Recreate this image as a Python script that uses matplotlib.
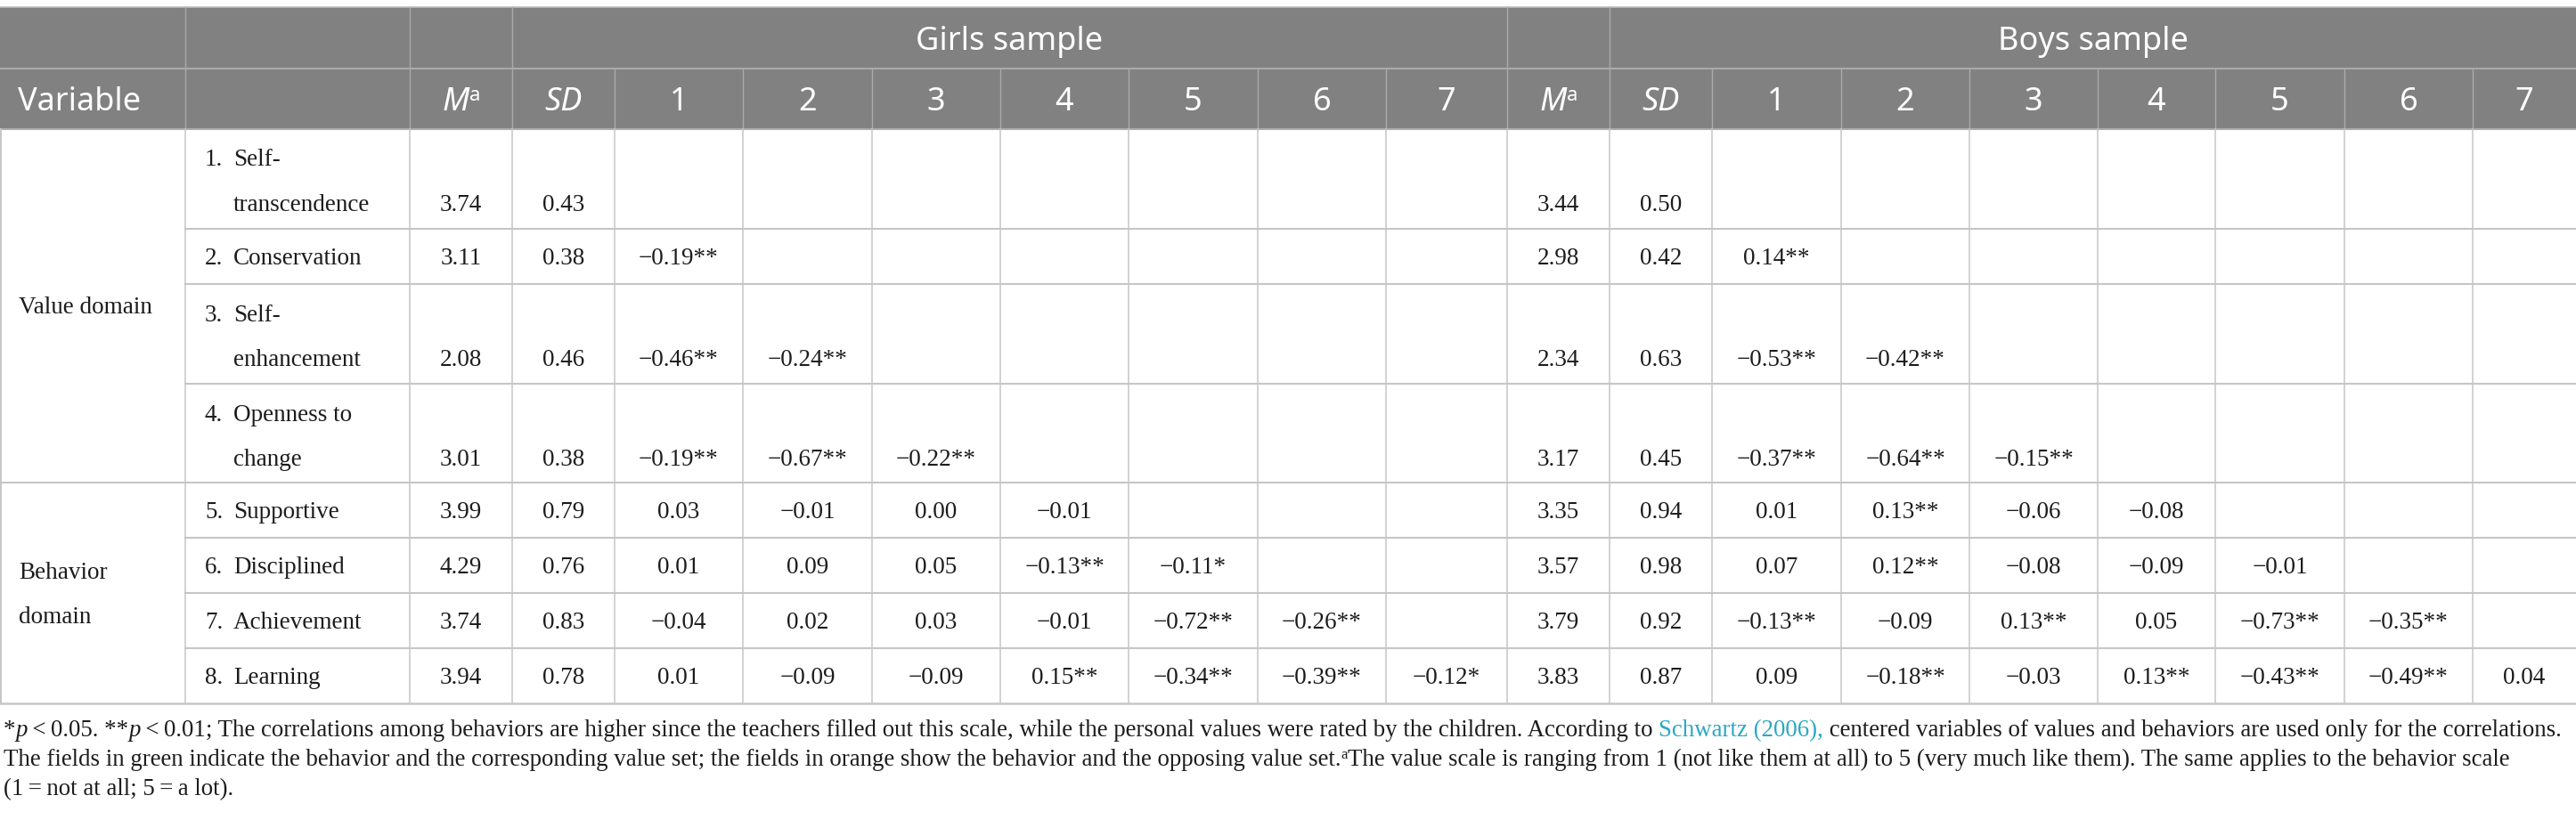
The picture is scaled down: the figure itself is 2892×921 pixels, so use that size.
import matplotlib
matplotlib.use("Agg")
import matplotlib.pyplot as plt
from matplotlib.patches import Rectangle

# ---------------- DATA ----------------
samples = ["Girls sample", "Boys sample"]
domains = ["Value domain", "Behavior\ndomain"]
domain_sizes = [4, 4]
var_nums = ["1.", "2.", "3.", "4.", "5.", "6.", "7.", "8."]
var_names = ["Self-\ntranscendence", "Conservation", "Self-\nenhancement", "Openness to\nchange",
             "Supportive", "Disciplined", "Achievement", "Learning"]
corr_labels = ["1", "2", "3", "4", "5", "6", "7"]

girls_mean = [3.74, 3.11, 2.08, 3.01, 3.99, 4.29, 3.74, 3.94]
girls_sd = [0.43, 0.38, 0.46, 0.38, 0.79, 0.76, 0.83, 0.78]
girls_r = [
    [],
    [-0.19],
    [-0.46, -0.24],
    [-0.19, -0.67, -0.22],
    [0.03, -0.01, 0.00, -0.01],
    [0.01, 0.09, 0.05, -0.13, -0.11],
    [-0.04, 0.02, 0.03, -0.01, -0.72, -0.26],
    [0.01, -0.09, -0.09, 0.15, -0.34, -0.39, -0.12],
]
girls_sig = [
    [],
    ["**"],
    ["**", "**"],
    ["**", "**", "**"],
    ["", "", "", ""],
    ["", "", "", "**", "*"],
    ["", "", "", "", "**", "**"],
    ["", "", "", "**", "**", "**", "*"],
]
boys_mean = [3.44, 2.98, 2.34, 3.17, 3.35, 3.57, 3.79, 3.83]
boys_sd = [0.50, 0.42, 0.63, 0.45, 0.94, 0.98, 0.92, 0.87]
boys_r = [
    [],
    [0.14],
    [-0.53, -0.42],
    [-0.37, -0.64, -0.15],
    [0.01, 0.13, -0.06, -0.08],
    [0.07, 0.12, -0.08, -0.09, -0.01],
    [-0.13, -0.09, 0.13, 0.05, -0.73, -0.35],
    [0.09, -0.18, -0.03, 0.13, -0.43, -0.49, 0.04],
]
boys_sig = [
    [],
    ["**"],
    ["**", "**"],
    ["**", "**", "**"],
    ["", "**", "", ""],
    ["", "**", "", "", ""],
    ["**", "", "**", "", "**", "**"],
    ["", "**", "", "**", "**", "**", ""],
]

note_line1_a = "\u2009<\u20090.05. **"
note_line1_b = "\u2009<\u20090.01; The correlations among behaviors are higher since the teachers filled out this scale, while the personal values were rated by the children. According to "
note_cite = "Schwartz (2006),"
note_line1_c = " centered variables of values and behaviors are used only for the correlations."
note_line2_a = "The fields in green indicate the behavior and the corresponding value set; the fields in orange show the behavior and the opposing value set."
note_line2_b = "The value scale is ranging from 1 (not like them at all) to 5 (very much like them). The same applies to the behavior scale"
note_line3 = "(1\u2009=\u2009not at all; 5\u2009=\u2009a lot)."

# ---------------- LAYOUT ----------------
W, H = 2892, 921
col_edges = [0, 208, 460, 575, 690, 834, 979, 1123, 1267, 1412, 1556, 1692,
             1807, 1922, 2067, 2211, 2355, 2487, 2632, 2776, 2892]
head_top, head_mid, head_bot = 8, 77, 145
row_edges = [145, 257, 319, 431, 542, 604, 666, 728, 790]

HEAD_BG = "#808180"
HEAD_LINE = "#a9aaa9"
GRID = "#c6c6c6"
TXT = "#1c1c1c"
TEAL = "#2aa8c4"
SERIF = ["Liberation Serif", "DejaVu Serif"]
SANS = ["Noto Sans", "DejaVu Sans"]
BODY_FS = 19.5
NOTE_FS = 19.35
HEAD_FS = 26

fig = plt.figure(figsize=(W / 100, H / 100), dpi=100)
ax = fig.add_axes([0, 0, 1, 1])
ax.set_xlim(0, W)
ax.set_ylim(H, 0)
ax.axis("off")
fig.canvas.draw()
renderer = fig.canvas.get_renderer()


def measure(s, **kw):
    t1 = ax.text(0, 0, "|" + s + "|", **kw)
    t2 = ax.text(0, 0, "||", **kw)
    w = t1.get_window_extent(renderer).width - t2.get_window_extent(renderer).width
    t1.remove()
    t2.remove()
    return w


def draw_runs(x, y, runs, ha="left"):
    widths = [measure(s, **kw) for s, kw, dy in runs]
    total = sum(widths)
    cx = x - total / 2 if ha == "center" else x
    for (s, kw, dy), w in zip(runs, widths):
        ax.text(cx, y + dy, s, ha="left", va="baseline", **kw)
        cx += w


def fmt(v):
    s = f"{abs(v):.2f}"
    return ("\u2212" + s) if v < 0 else s


# ---------------- HEADER ----------------
ax.add_patch(Rectangle((0, head_top), W, head_bot - head_top, facecolor=HEAD_BG, edgecolor="none", zorder=0))
ax.plot([0, W], [head_top, head_top], color="#bdbdbd", lw=1.2, zorder=1)
ax.plot([0, W], [head_mid, head_mid], color=HEAD_LINE, lw=1.5, zorder=1)
ax.plot([0, W], [head_bot, head_bot], color=HEAD_LINE, lw=1.5, zorder=1)
for xe in [col_edges[1], col_edges[2], col_edges[3], col_edges[11], col_edges[12]]:
    ax.plot([xe, xe], [head_top, head_mid], color=HEAD_LINE, lw=1.0, zorder=1)
for xe in col_edges[1:-1]:
    ax.plot([xe, xe], [head_mid, head_bot], color=HEAD_LINE, lw=1.0, zorder=1)

hkw = dict(family=SANS, fontsize=HEAD_FS, color="white")
hkw_it = dict(family=SANS, fontsize=HEAD_FS, color="white", style="italic")
hkw_sup = dict(family=SANS, fontsize=16, color="white")
# sample spans
for name, c0, c1 in [(samples[0], 3, 11), (samples[1], 12, 20)]:
    ax.text((col_edges[c0] + col_edges[c1]) / 2, 56, name, ha="center", va="baseline", **hkw)

hb = 124
ax.text(20, hb, "Variable", ha="left", va="baseline", **hkw)
for mcol in (2, 11):
    xc = (col_edges[mcol] + col_edges[mcol + 1]) / 2
    draw_runs(xc, hb, [("M", hkw_it, 0), ("a", hkw_sup, -11)], ha="center")
    xc = (col_edges[mcol + 1] + col_edges[mcol + 2]) / 2
    ax.text(xc, hb, "SD", ha="center", va="baseline", **hkw_it)
    for k, lab in enumerate(corr_labels):
        c = mcol + 2 + k
        ax.text((col_edges[c] + col_edges[c + 1]) / 2, hb, lab, ha="center", va="baseline", **hkw)

# ---------------- BODY GRID ----------------
for xe in col_edges[1:-1]:
    ax.plot([xe, xe], [head_bot, row_edges[-1]], color=GRID, lw=1.1, zorder=1)
ax.plot([1, 1], [head_bot, row_edges[-1]], color=GRID, lw=1.4, zorder=1)
for i, ye in enumerate(row_edges[1:-1], start=1):
    x0 = 0 if i == domain_sizes[0] else col_edges[1]
    ax.plot([x0, W], [ye, ye], color=GRID, lw=1.5, zorder=1)
ax.plot([0, W], [row_edges[-1], row_edges[-1]], color=GRID, lw=1.8, zorder=1)

bkw = dict(family=SERIF, fontsize=BODY_FS, color=TXT)
BASE = 8.5   # baseline offset from visual centre
LINE_GAP = 50

# domain labels
start = 0
for dom, n in zip(domains, domain_sizes):
    top, bot = row_edges[start], row_edges[start + n]
    lines = dom.split("\n")
    yc = (top + bot) / 2 - (len(lines) - 1) * LINE_GAP / 2
    for j, ln in enumerate(lines):
        ax.text(21, yc + j * LINE_GAP + BASE, ln, ha="left", va="baseline", **bkw)
    start += n

# rows
for i in range(len(var_names)):
    top, bot = row_edges[i], row_edges[i + 1]
    lines = var_names[i].split("\n")
    if len(lines) == 1:
        ys = [(top + bot) / 2]
    else:
        ys = [top + 33, top + 83]
    ax.text(230, ys[0] + BASE, var_nums[i], ha="left", va="baseline", **bkw)
    for j, ln in enumerate(lines):
        ax.text(262, ys[j] + BASE, ln, ha="left", va="baseline", **bkw)
    yv = ys[-1] + BASE
    for base_col, means, sds, rs, sigs in [(2, girls_mean, girls_sd, girls_r, girls_sig),
                                           (11, boys_mean, boys_sd, boys_r, boys_sig)]:
        cells = [f"{means[i]:.2f}", f"{sds[i]:.2f}"] + [fmt(v) + s for v, s in zip(rs[i], sigs[i])]
        for k, txt in enumerate(cells):
            c = base_col + k
            ax.text((col_edges[c] + col_edges[c + 1]) / 2, yv, txt, ha="center", va="baseline", **bkw)

# ---------------- NOTES ----------------
nkw = dict(family=SERIF, fontsize=NOTE_FS, color=TXT)
nkw_it = dict(family=SERIF, fontsize=NOTE_FS, color=TXT, style="italic")
nkw_teal = dict(family=SERIF, fontsize=NOTE_FS, color=TEAL)
nkw_sup = dict(family=SERIF, fontsize=12, color=TXT)
draw_runs(4, 827, [("*", nkw, 0), ("p", nkw_it, 0), (note_line1_a, nkw, 0), ("p", nkw_it, 0),
                   (note_line1_b, nkw, 0), (note_cite, nkw_teal, 0), (note_line1_c, nkw, 0)])
draw_runs(4, 860, [(note_line2_a, nkw, 0), ("a", nkw_sup, -8), (note_line2_b, nkw, 0)])
draw_runs(4, 893, [(note_line3, nkw, 0)])

fig.savefig("out.png", dpi=100)
